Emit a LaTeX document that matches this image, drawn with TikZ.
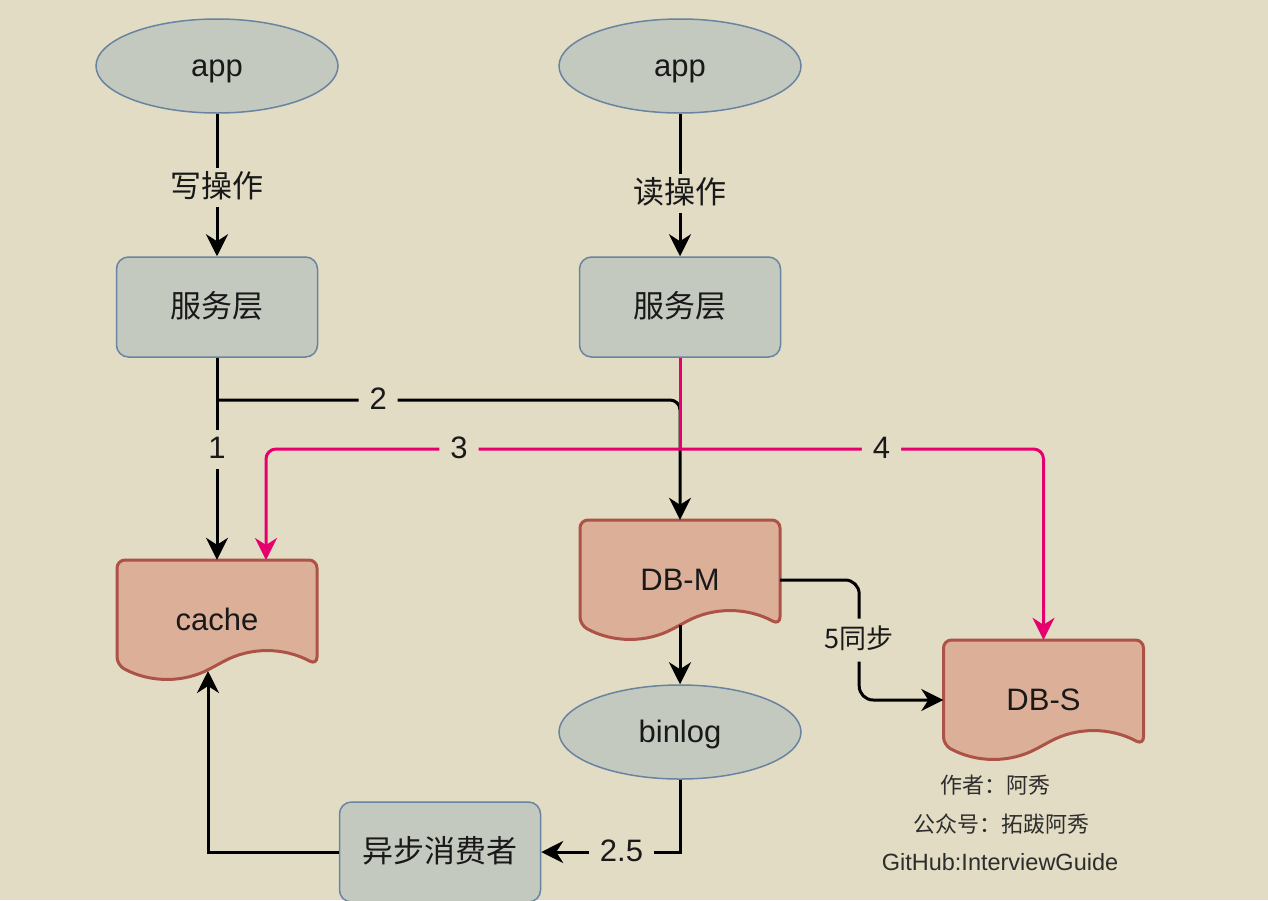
\documentclass[tikz,border=0pt]{standalone}
\usepackage{fontspec}
\setmainfont{Liberation Sans}
\newfontfamily\cjk{Noto Sans CJK SC}
\usetikzlibrary{arrows.meta,shapes.geometric}
\definecolor{bg}{RGB}{227,220,196}
\definecolor{gfill}{RGB}{196,201,192}
\definecolor{gline}{RGB}{104,132,160}
\definecolor{dfill}{RGB}{220,176,152}
\definecolor{dline}{RGB}{172,82,70}
\definecolor{pink}{RGB}{230,0,110}
\definecolor{txt}{RGB}{25,25,25}
\definecolor{smalltxt}{RGB}{45,45,45}
\tikzset{
  big/.style={font=\fontsize{31}{36}\selectfont, text=txt},
  ntext/.style={text height=25pt, text depth=4pt},
  ellnode/.style={ellipse, draw=gline, line width=1.5pt, fill=gfill, minimum width=242pt, minimum height=94pt, inner sep=0pt, big, ntext},
  boxnode/.style={rectangle, draw=gline, line width=1.5pt, fill=gfill, rounded corners=12pt, minimum width=201pt, minimum height=100pt, inner sep=0pt, big, ntext},
  docpath/.style={draw=dline, line width=3pt, fill=dfill},
  docnode/.style={rectangle, minimum width=200pt, minimum height=120pt, inner sep=0pt, big, ntext},
  tip/.style={-{Stealth[length=22pt,width=22pt,inset=7pt]}},
  conn/.style={line width=3pt, draw=black, tip},
  plainred/.style={line width=3pt, draw=pink},
  redconn/.style={line width=3pt, draw=pink, -{Stealth[length=22pt,width=22pt,inset=7pt,fill=pink]}},
  lbl/.style={fill=bg, inner xsep=11pt, inner ysep=7pt, text height=22pt, text depth=3pt, big},
  lblsmall/.style={fill=bg, inner xsep=6pt, inner ysep=9pt, text height=21pt, text depth=4pt, font=\fontsize{27}{32}\selectfont, text=txt},
  note/.style={inner sep=0pt, font=\fontsize{22}{26}\selectfont, text=smalltxt},
  notelatin/.style={inner sep=0pt, font=\fontsize{23.5}{28}\selectfont, text=smalltxt},
}
\newcommand\docshape[4]{%
  \path[docpath] (#2,#3) [rounded corners=8pt] -- ({#2+100},#3) -- ({#2+100},{#3+105})
    .. controls ({#2+66.67},{#3+87}) and ({#2+33.33},{#3+87}) .. (#2,{#3+105})
    .. controls ({#2-33.33},{#3+123}) and ({#2-66.67},{#3+123}) .. ({#2-100},{#3+105})
    -- ({#2-100},#3) -- cycle;
  \node[docnode] (#1) at (#2,{#3+60}) {#4};
  \coordinate (#1-b) at (#2,{#3+105});
}
\begin{document}
\begin{tikzpicture}[x=1pt,y=-1pt]
\path[use as bounding box] (0,0) rectangle (1268,900);
\clip (0,0) rectangle (1268,900);
\fill[bg] (0,0) rectangle (1268,900);

% nodes
\node[ellnode] (app1) at (217,66) {app};
\node[ellnode] (app2) at (680,66) {app};
\node[boxnode] (svc1) at (217,307) {\cjk 服务层};
\node[boxnode] (svc2) at (680,307) {\cjk 服务层};
\docshape{cache}{217}{560}{cache}
\docshape{dbm}{680}{520}{DB-M}
\docshape{dbs}{1043.5}{640}{DB-S}
\node[ellnode] (binlog) at (680,732) {binlog};
\node[boxnode] (cons) at (440,852) {\cjk 异步消费者};

\coordinate (j2) at (217,400);
\coordinate (j34) at (680,449);
\coordinate (cacheT) at (266,560);
\coordinate (cacheB) at (208,671);

% connectors
\draw[conn] (app1) -- node[lbl,pos=0.52]{\cjk 写操作} (svc1);
\draw[conn] (app2) -- node[lbl,pos=0.56]{\cjk 读操作} (svc2);
\draw[conn] (svc1) -- node[lbl,pos=0.453]{1} (cache);
\draw[conn, rounded corners=10pt] (j2) -| node[lbl,pos=0.174]{2} (dbm.north);
\draw[plainred] (svc2.south) -- (j34);
\draw[redconn, rounded corners=10pt] (j34) -| node[lbl,pos=0.267]{3} (cacheT);
\draw[redconn, rounded corners=10pt] (j34) -| node[lbl,pos=0.277]{4} (dbs.north);
\draw[conn] (dbm-b) -- (binlog.north);
\draw[conn, rounded corners=14pt] (dbm.east) -- ++(79,0) -- node[lblsmall]{\cjk 5同步} ++(0,120) -- (dbs.west);
\draw[conn] (binlog.south) |- node[lbl,pos=0.711]{2.5} (cons.east);
\draw[conn] (cons.west) -| (cacheB);

% notes
\node[note] (author) at (995,785) {\cjk 作者：阿秀};
\node[note] (gzh) at (1001,824) {\cjk 公众号：拓跋阿秀};
\node[notelatin] (gh) at (1000,862) {GitHub:InterviewGuide};
\end{tikzpicture}
\end{document}
